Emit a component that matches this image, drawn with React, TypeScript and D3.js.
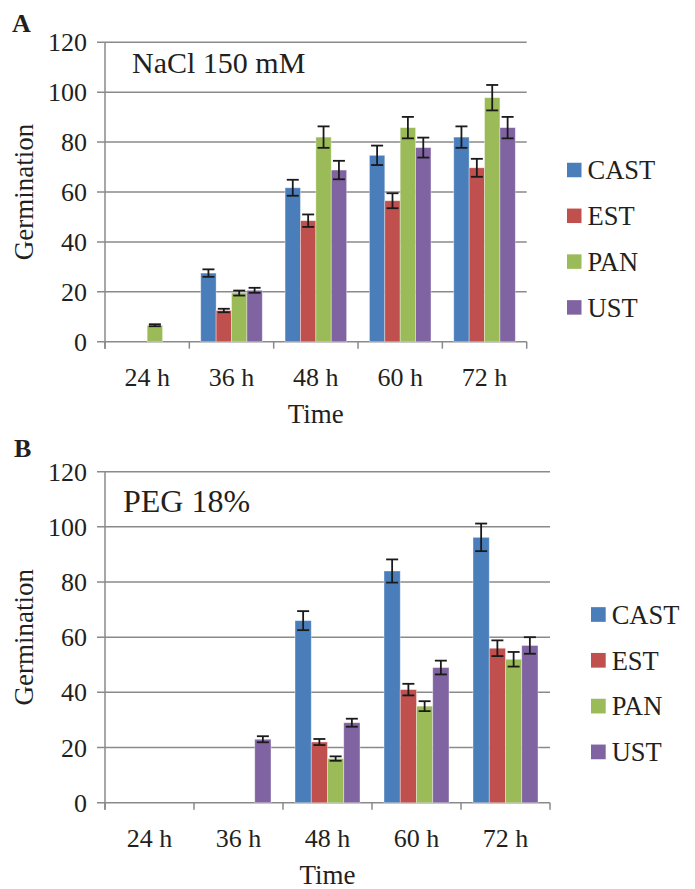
import React from 'react';
import * as d3 from 'd3';

const categories = ['24 h', '36 h', '48 h', '60 h', '72 h'];
const seriesNames = ['CAST', 'EST', 'PAN', 'UST'];
const seriesColors = ['#4A7EBB', '#C0504D', '#9BBB59', '#8064A2'];
const yTicks = [0, 20, 40, 60, 80, 100, 120];

// Panel A: NaCl 150 mM
const naclCAST = [0, 27.5, 61.7, 74.7, 82];
const naclCASTErr = [0, 1.5, 3.2, 3.9, 4.3];
const naclEST = [0, 12.5, 48.5, 56.5, 69.7];
const naclESTErr = [0, 0.7, 2.5, 3, 3.6];
const naclPAN = [6.6, 19.5, 82, 85.8, 97.8];
const naclPANErr = [0.4, 1, 4.3, 4.3, 5.1];
const naclUST = [0, 20.6, 68.8, 77.8, 85.8];
const naclUSTErr = [0, 1, 3.7, 4, 4.3];

// Panel B: PEG 18%
const pegCAST = [0, 0, 66, 84, 96.2];
const pegCASTErr = [0, 0, 3.45, 4.2, 5];
const pegEST = [0, 0, 22, 41, 56];
const pegESTErr = [0, 0, 1.1, 2.1, 2.85];
const pegPAN = [0, 0, 16, 35, 52];
const pegPANErr = [0, 0, 0.8, 1.8, 2.65];
const pegUST = [0, 23, 29, 49, 57];
const pegUSTErr = [0, 1.1, 1.45, 2.5, 3];

const FONT = '"Liberation Serif", "Times New Roman", serif';
const TEXT = '#231F20';
const GRID = '#8A8A8A';

type PanelProps = {
  letter: string;
  letterX: number;
  letterY: number;
  title: string;
  titleX: number;
  titleY: number;
  titleSize: number;
  left: number;
  right: number;
  top: number;
  zero: number;
  values: number[][];
  errors: number[][];
  legendX: number;
  legendY: number;
  legendSize: number;
};

function Panel(p: PanelProps) {
  const x0 = d3
    .scaleBand<string>()
    .domain(categories)
    .range([p.left, p.right])
    .paddingInner(0.27)
    .paddingOuter(0.135);
  const x1 = d3.scaleBand<string>().domain(seriesNames).range([0, x0.bandwidth()]);
  const y = d3.scaleLinear().domain([0, 120]).range([p.zero, p.top]);
  const step = (p.right - p.left) / categories.length;
  const catTicks = d3.range(categories.length + 1).map((i) => p.left + i * step);
  const cy = (p.top + p.zero) / 2;
  const cx = (p.left + p.right) / 2;

  return (
    <g>
      <text x={p.letterX} y={p.letterY} fontFamily={FONT} fontWeight="bold" fontSize={26} fill={TEXT}>
        {p.letter}
      </text>
      {yTicks.map((t) => (
        <g key={t}>
          <line x1={p.left - 8} x2={p.right} y1={y(t)} y2={y(t)} stroke={GRID} strokeWidth={1.5} />
          <text x={p.left - 18} y={y(t)} dy="0.35em" textAnchor="end" fontFamily={FONT} fontSize={26} fill={TEXT}>
            {t}
          </text>
        </g>
      ))}
      <line x1={p.left} x2={p.left} y1={p.top} y2={p.zero + 7} stroke={GRID} strokeWidth={1.5} />
      {catTicks.map((tx, i) => (
        <line key={i} x1={tx} x2={tx} y1={p.zero} y2={p.zero + 7} stroke={GRID} strokeWidth={1.5} />
      ))}
      {categories.map((c) => (
        <text
          key={c}
          x={(x0(c) as number) + x0.bandwidth() / 2}
          y={p.zero + 44}
          textAnchor="middle"
          fontFamily={FONT}
          fontSize={26}
          fill={TEXT}
        >
          {c}
        </text>
      ))}
      <text x={cx} y={p.zero + 81} textAnchor="middle" fontFamily={FONT} fontSize={27} fill={TEXT}>
        Time
      </text>
      <text
        transform={`translate(${33},${cy}) rotate(-90)`}
        textAnchor="middle"
        fontFamily={FONT}
        fontSize={27}
        fill={TEXT}
      >
        Germination
      </text>
      <text x={p.titleX} y={p.titleY} fontFamily={FONT} fontSize={p.titleSize} fill={TEXT}>
        {p.title}
      </text>
      {seriesNames.map((s, si) =>
        categories.map((c, ci) => {
          const v = p.values[si][ci];
          if (!v) return null;
          const bx = (x0(c) as number) + (x1(s) as number);
          return (
            <rect
              key={s + c}
              x={bx}
              y={y(v)}
              width={x1.bandwidth()}
              height={y(0) - y(v)}
              fill={seriesColors[si]}
              stroke="rgba(255,255,255,0.45)"
              strokeWidth={0.8}
            />
          );
        })
      )}
      {seriesNames.map((s, si) =>
        categories.map((c, ci) => {
          const v = p.values[si][ci];
          const e = p.errors[si][ci];
          if (!v || !e) return null;
          const mx = (x0(c) as number) + (x1(s) as number) + x1.bandwidth() / 2;
          const hw = 6;
          return (
            <g key={'e' + s + c} stroke="#1A1A1A" strokeWidth={1.8}>
              <line x1={mx} x2={mx} y1={y(v + e)} y2={y(v - e)} />
              <line x1={mx - hw} x2={mx + hw} y1={y(v + e)} y2={y(v + e)} />
              <line x1={mx - hw} x2={mx + hw} y1={y(v - e)} y2={y(v - e)} />
            </g>
          );
        })
      )}
      {seriesNames.map((s, si) => {
        const ly = p.legendY + si * 45.8;
        return (
          <g key={'l' + s}>
            <rect x={p.legendX} y={ly - p.legendSize / 2} width={p.legendSize} height={p.legendSize} fill={seriesColors[si]} />
            <text x={p.legendX + p.legendSize + 6} y={ly} dy="0.35em" fontFamily={FONT} fontSize={26.5} fill={TEXT}>
              {s}
            </text>
          </g>
        );
      })}
    </g>
  );
}

export default function App() {
  return (
    <svg
      width={695}
      height={889}
      viewBox="0 0 695 889"
      style={{ position: 'absolute', left: 0, top: 0, background: '#fff' }}
    >
      <rect x={0} y={0} width={695} height={889} fill="#fff" />
      <Panel
        letter="A"
        letterX={12}
        letterY={31.5}
        title="NaCl 150 mM"
        titleX={132}
        titleY={73}
        titleSize={30}
        left={105}
        right={526.7}
        top={42.3}
        zero={341.7}
        values={[naclCAST, naclEST, naclPAN, naclUST]}
        errors={[naclCASTErr, naclESTErr, naclPANErr, naclUSTErr]}
        legendX={567}
        legendY={170}
        legendSize={14.5}
      />
      <Panel
        letter="B"
        letterX={14}
        letterY={456.5}
        title="PEG 18%"
        titleX={123}
        titleY={511.5}
        titleSize={32}
        left={105}
        right={550}
        top={471.7}
        zero={802.7}
        values={[pegCAST, pegEST, pegPAN, pegUST]}
        errors={[pegCASTErr, pegESTErr, pegPANErr, pegUSTErr]}
        legendX={591}
        legendY={614.5}
        legendSize={14.7}
      />
    </svg>
  );
}
